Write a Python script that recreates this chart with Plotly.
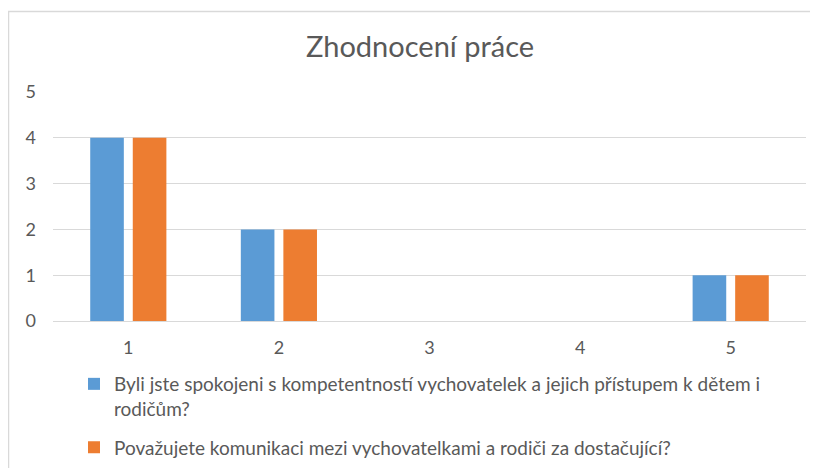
import plotly.graph_objects as go

# Data
categories = ["1", "2", "3", "4", "5"]
spokojeni = [4, 2, 0, 0, 1]
komunikace = [4, 2, 0, 0, 1]
series_names = [
    "Byli jste spokojeni s kompetentností vychovatelek a jejich přístupem k dětem i<br>rodičům?",
    "Považujete komunikaci mezi vychovatelkami a rodiči za dostačující?",
]
y_ticks = [0, 1, 2, 3, 4, 5]

# the page puts the figure 8px in from the top-left corner
OFF = 8
W, H = 818, 468
L, R, T, B = 53 - OFF, 818 - (806 - OFF), 92 - OFF, 468 - (321 - OFF)
pw, ph = W - L - R, H - T - B

FONT = "Lato, Roboto, sans-serif"
GREY = "#595959"


def px_x(x):
    return (x - OFF - L) / pw


def px_y(y):
    return (H - B - (y - OFF)) / ph


fig = go.Figure()
fig.add_trace(go.Bar(x=categories, y=spokojeni, name=series_names[0],
                     legendgroup="a",
                     marker=dict(color="#5B9BD5", line=dict(width=0))))
fig.add_trace(go.Bar(x=categories, y=komunikace, name=series_names[1],
                     legendgroup="b",
                     marker=dict(color="#ED7D31", line=dict(width=0))))

fig.update_layout(
    width=W, height=H,
    margin=dict(l=L, r=R, t=T, b=B, autoexpand=False),
    plot_bgcolor="white", paper_bgcolor="white",
    barmode="group", bargap=0.435, bargroupgap=0.21,
    font=dict(family=FONT, color=GREY, size=19),
    title=dict(text="Zhodnocení práce", x=(420 - OFF) / W, xanchor="center",
               y=1 - (47 - OFF) / H, yanchor="middle",
               font=dict(family=FONT, size=29, color=GREY)),
    showlegend=True,
    legend=dict(orientation="v", x=px_x(74), xanchor="left",
                y=px_y(365), yanchor="top", valign="top",
                font=dict(family=FONT, size=19, color=GREY),
                tracegroupgap=11, bgcolor="rgba(0,0,0,0)"),
    shapes=[dict(type="rect", xref="paper", yref="paper",
                 x0=px_x(8.5), x1=px_x(840), y0=px_y(490), y1=px_y(11.5),
                 line=dict(color="#D9D9D9", width=1.5), layer="below")],
)
fig.update_xaxes(showgrid=False, showline=True, linecolor="#D9D9D9",
                 linewidth=1, ticks="", ticklabelstandoff=10,
                 tickfont=dict(size=18, color=GREY))
fig.update_yaxes(range=[0, 5], tickvals=y_ticks, showgrid=True,
                 gridcolor="#D9D9D9", gridwidth=1, zeroline=False,
                 showline=False, ticks="", ticklabelstandoff=16,
                 tickfont=dict(size=18, color=GREY))

fig.write_html("out.html")
